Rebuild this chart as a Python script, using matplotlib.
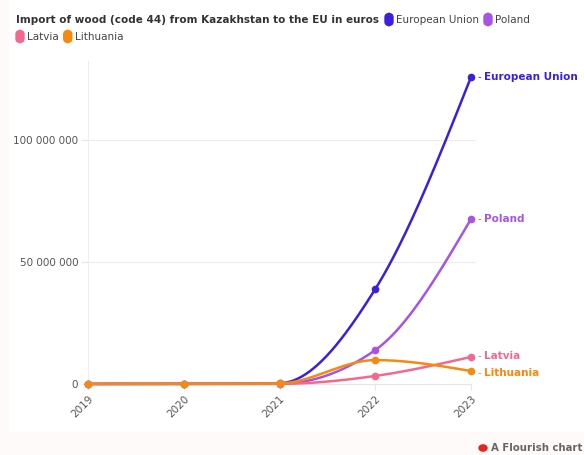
import numpy as np
import matplotlib
matplotlib.use("Agg")
import matplotlib.pyplot as plt
from matplotlib.patches import FancyBboxPatch, Rectangle

years = [2019, 2020, 2021, 2022, 2023]
series_names = ["European Union", "Poland", "Latvia", "Lithuania"]
eu = [0.05e6, 0.05e6, 0.3e6, 38.9e6, 125.8e6]
poland = [0.0, 0.0, 0.1e6, 13.9e6, 67.6e6]
latvia = [0.0, 0.0, 0.05e6, 3.3e6, 11.1e6]
lithuania = [0.05e6, 0.05e6, 0.25e6, 9.8e6, 5.3e6]
colors = ["#3b1fe0", "#a653e6", "#f06a8f", "#f58a0f"]
yticks = [0, 50e6, 100e6]
ytick_labels = ["0", "50 000 000", "100 000 000"]
title = "Import of wood (code 44) from Kazakhstan to the EU in euros"


def monotone_x(x, y, n=60):
    x = np.asarray(x, float); y = np.asarray(y, float)
    h = np.diff(x); s = np.diff(y) / h
    m = np.zeros_like(y)
    for i in range(1, len(x) - 1):
        s0, s1 = s[i - 1], s[i]
        p = (s0 * h[i] + s1 * h[i - 1]) / (h[i - 1] + h[i])
        m[i] = (np.sign(s0) + np.sign(s1)) * min(abs(s0), abs(s1), 0.5 * abs(p))
    m[0] = (3 * (y[1] - y[0]) / h[0] - m[1]) / 2
    m[-1] = (3 * (y[-1] - y[-2]) / h[-1] - m[-2]) / 2
    xs, ys = [], []
    for i in range(len(x) - 1):
        t = np.linspace(0, 1, n)
        dx = h[i]
        h00 = 2 * t**3 - 3 * t**2 + 1
        h10 = t**3 - 2 * t**2 + t
        h01 = -2 * t**3 + 3 * t**2
        h11 = t**3 - t**2
        xs.append(x[i] + t * dx)
        ys.append(h00 * y[i] + h10 * dx * m[i] + h01 * y[i + 1] + h11 * dx * m[i + 1])
    return np.concatenate(xs), np.concatenate(ys)


W, H = 584, 455
fig = plt.figure(figsize=(W / 100, H / 100), dpi=100)
fig.patch.set_facecolor("white")

# faint frame strips
fig.add_artist(Rectangle((0, 0), 8 / W, 1, transform=fig.transFigure, color="#fefaf9", zorder=0))
fig.add_artist(Rectangle((0, 0), 1, 23 / H, transform=fig.transFigure, color="#fefaf9", zorder=0))

left, right, bottom, top = 88, 471, 384, 61
ax = fig.add_axes([left / W, 1 - bottom / H, (right - left) / W, (bottom - top) / H])
ax.set_facecolor("none")
ymax = (bottom - top) / 2.44 * 1e6
ax.set_ylim(0, ymax)
ax.set_xlim(2019, 2023)

for sp in ["top", "right"]:
    ax.spines[sp].set_visible(False)
ax.spines["left"].set_color("#eeeeee")
ax.spines["left"].set_linewidth(0.8)
ax.spines["bottom"].set_color("#e6e6e6")
ax.spines["bottom"].set_linewidth(0.8)

ax.set_yticks(yticks)
ax.set_yticklabels(ytick_labels)
for yv in yticks[1:]:
    ax.axhline(yv, color="#ececec", lw=0.8, zorder=0, xmax=1.01, clip_on=False)
ax.tick_params(axis="y", length=5, color="#e6e6e6", labelsize=7.5, labelcolor="#555555", pad=2)
ax.set_xticks(years)
ax.set_xticklabels([str(y) for y in years], rotation=45, ha="right", va="top",
                   rotation_mode="anchor")
ax.tick_params(axis="x", length=4, color="#e6e6e6", labelsize=7.5, labelcolor="#555555", pad=3)

data = [eu, poland, latvia, lithuania]
order = [2, 1, 0, 3]
for i in order:
    xs, ys = monotone_x(years, data[i])
    ax.plot(xs, ys, color=colors[i], lw=1.8, solid_capstyle="round", zorder=3 + i, clip_on=False)
    ax.plot(years, data[i], "o", color=colors[i], ms=4.5, zorder=3 + i, clip_on=False)

label_offsets = {0: 0, 1: 0, 2: 0.5e6, 3: -0.8e6}
for i, name in enumerate(series_names):
    yv = data[i][-1] + label_offsets[i]
    ax.annotate("-", xy=(2023, data[i][-1]), xytext=(2023.07, yv), color=colors[i],
                fontsize=7, va="center", ha="left", annotation_clip=False)
    ax.text(2023.135, yv, name, color=colors[i], fontsize=7.5, fontweight="bold",
            va="center", ha="left", clip_on=False)

# header
fig.text(16 / W, 1 - 20 / H, title, fontsize=7.5, fontweight="bold", color="#333333",
         va="center", ha="left")
r = fig.canvas.get_renderer()
t = fig.texts[-1]
bb = t.get_window_extent(renderer=r)
x0 = bb.x1 + 6


def legend_item(xpix, ypix, color, label):
    fig.add_artist(FancyBboxPatch(((xpix) / W, 1 - (ypix + 5.5) / H), 8 / W, 12 / H,
                                  boxstyle="round,pad=0,rounding_size=0.008",
                                  transform=fig.transFigure, color=color))
    tt = fig.text((xpix + 11) / W, 1 - ypix / H, label, fontsize=7.5, color="#444444",
                  va="center", ha="left")
    return tt.get_window_extent(renderer=r).x1 + 5


x1 = legend_item(x0, 20, colors[0], series_names[0])
legend_item(x1, 20, colors[1], series_names[1])
x2 = legend_item(16, 37, colors[2], series_names[2])
legend_item(x2, 37, colors[3], series_names[3])

# footer
fig.add_artist(plt.Circle((483 / W, 1 - 448 / H), 4 / W, transform=fig.transFigure, color="#e8221c"))
fig.text(491 / W, 1 - 448 / H, "A Flourish chart", fontsize=7.3, fontweight="bold",
         color="#666666", va="center", ha="left")

fig.savefig("out.png", dpi=100)
